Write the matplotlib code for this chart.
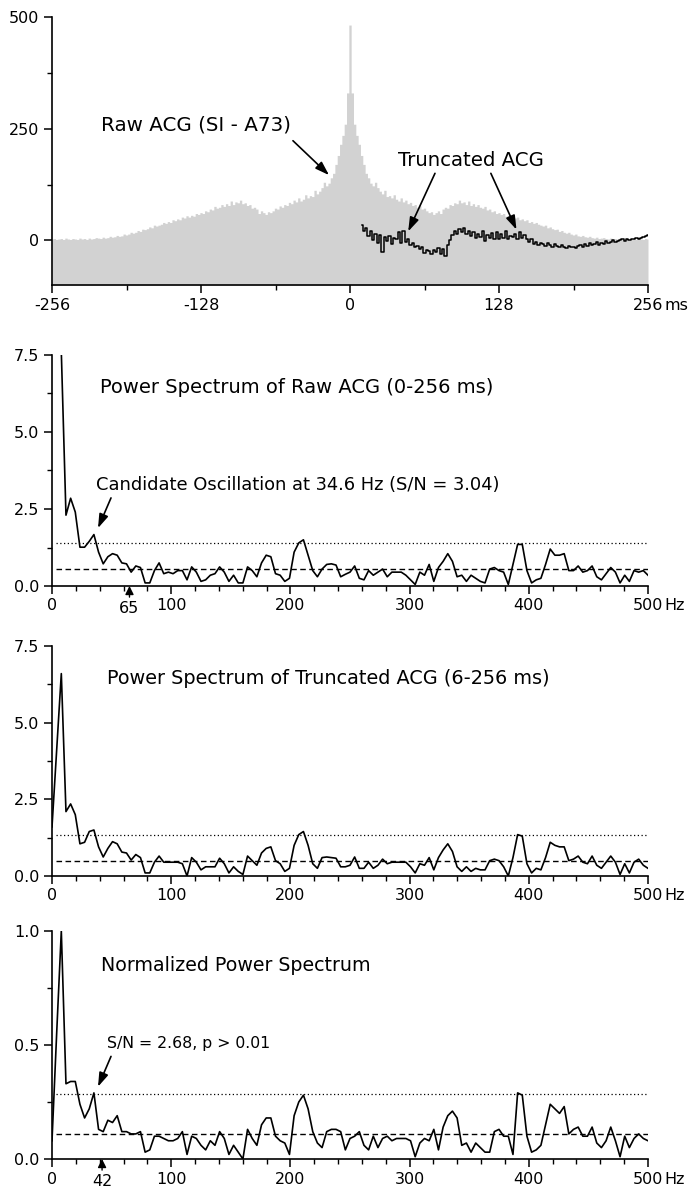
import numpy as np
import matplotlib.pyplot as plt
from matplotlib.ticker import MultipleLocator

plt.rcParams['font.family'] = ['DejaVu Sans']

# ---- raw autocorrelogram, counts at lags 0, 2, ..., 256 ms (symmetric) ----
acg_counts = [482, 330, 260, 235, 215, 190, 170, 150, 140, 128,
              122, 130, 118, 110, 104, 112, 98, 100, 95, 102,
              92, 88, 95, 86, 90, 82, 85, 78, 80, 74,
              77, 70, 72, 66, 62, 64, 58, 62, 66, 60,
              70, 74, 72, 80, 78, 84, 82, 90, 84, 86,
              80, 88, 78, 82, 76, 80, 74, 72, 76, 68,
              70, 64, 66, 60, 62, 58, 60, 54, 56, 52,
              55, 50, 52, 46, 48, 44, 46, 40, 42, 38,
              40, 36, 34, 32, 34, 28, 30, 26, 24, 25,
              20, 22, 18, 16, 18, 14, 12, 14, 10, 9,
              11, 8, 7, 9, 6, 5, 7, 4, 5, 6,
              4, 3, 5, 2, 4, 3, 5, 2, 3, 4,
              2, 3, 5, 2, 4, 3, 2, 4, 3]
acg_lags = np.arange(0, 257, 2)

# truncated ACG, lags 10, 12, ..., 256 ms
trunc_vals = [34, 20, 28, 10, 22, 0, 15, -5, 12, -25,
              8, -2, 10, -8, 6, 2, 18, -5, 20, -3,
              4, -10, -6, -14, -12, -20, -16, -28, -22, -24,
              -30, -22, -26, -18, -30, -20, -35, -10, 0, 12,
              20, 14, 26, 18, 28, 15, 22, 10, 18, 5,
              14, 8, 20, -2, 12, 6, 16, 4, 18, 2,
              14, 6, 20, 4, 10, 8, 15, 3, 18, 6,
              12, 2, -4, 2, -8, -4, -10, -6, -8, -12,
              -6, -10, -14, -8, -12, -16, -10, -14, -18, -12,
              -16, -14, -18, -12, -10, -14, -8, -12, -6, -10,
              -8, -4, -10, -6, -8, -2, -6, -4, 0, -4,
              -2, 0, 2, -2, 2, 0, 4, 2, 6, 4,
              6, 8, 10, 12]
trunc_lags = np.arange(10, 257, 2)

# ---- power spectra, 129 bins from 0 to 500 Hz ----
freqs = np.linspace(0, 500, 129)

raw_power = [30, 18, 7.6, 2.3, 2.85, 2.4, 1.26, 1.26, 1.45, 1.67,
             1.1, 0.72, 0.95, 1.05, 1.0, 0.75, 0.72, 0.45, 0.65, 0.6,
             0.1, 0.1, 0.5, 0.75, 0.4, 0.45, 0.4, 0.5, 0.5, 0.2,
             0.62, 0.45, 0.15, 0.2, 0.35, 0.4, 0.62, 0.45, 0.15, 0.35,
             0.1, 0.1, 0.62, 0.5, 0.3, 0.75, 1.0, 0.95, 0.4, 0.35,
             0.15, 0.25, 1.1, 1.4, 1.5, 1.0, 0.5, 0.3, 0.55, 0.7,
             0.72, 0.68, 0.3, 0.38, 0.45, 0.65, 0.25, 0.2, 0.5, 0.35,
             0.45, 0.55, 0.3, 0.45, 0.45, 0.45, 0.35, 0.2, 0.05, 0.45,
             0.35, 0.7, 0.15, 0.6, 0.8, 1.05, 0.8, 0.3, 0.35, 0.15,
             0.35, 0.25, 0.15, 0.1, 0.55, 0.6, 0.5, 0.45, 0.05, 0.7,
             1.35, 1.35, 0.5, 0.1, 0.2, 0.25, 0.7, 1.2, 1.0, 1.0,
             1.05, 0.5, 0.5, 0.65, 0.45, 0.5, 0.65, 0.3, 0.2, 0.4,
             0.6, 0.45, 0.1, 0.35, 0.15, 0.5, 0.45, 0.5, 0.35]

trunc_power = [1.6, 4.1, 6.6, 2.1, 2.35, 2.0, 1.05, 1.1, 1.45, 1.5,
               0.95, 0.62, 0.9, 1.12, 1.05, 0.78, 0.75, 0.52, 0.7, 0.6,
               0.1, 0.1, 0.45, 0.65, 0.45, 0.45, 0.45, 0.45, 0.4, 0.0,
               0.6, 0.45, 0.2, 0.3, 0.3, 0.3, 0.58, 0.4, 0.1, 0.3,
               0.15, 0.05, 0.65, 0.5, 0.35, 0.75, 0.9, 0.95, 0.5, 0.4,
               0.15, 0.25, 1.0, 1.35, 1.45, 1.0, 0.4, 0.25, 0.6, 0.62,
               0.6, 0.58, 0.3, 0.3, 0.35, 0.62, 0.25, 0.25, 0.45, 0.25,
               0.35, 0.55, 0.4, 0.45, 0.45, 0.45, 0.45, 0.3, 0.1, 0.4,
               0.35, 0.6, 0.2, 0.6, 0.85, 1.05, 0.8, 0.3, 0.15, 0.3,
               0.15, 0.25, 0.2, 0.2, 0.5, 0.55, 0.5, 0.3, 0.0, 0.6,
               1.35, 1.3, 0.4, 0.1, 0.25, 0.2, 0.6, 1.1, 1.0, 0.95,
               0.95, 0.5, 0.55, 0.65, 0.45, 0.4, 0.65, 0.35, 0.25, 0.45,
               0.65, 0.45, 0.05, 0.4, 0.1, 0.45, 0.55, 0.35, 0.25]

norm_power = [0.08, 0.55, 1.0, 0.33, 0.34, 0.34, 0.24, 0.18, 0.22, 0.29,
              0.13, 0.12, 0.17, 0.16, 0.19, 0.12, 0.12, 0.11, 0.11, 0.12,
              0.03, 0.04, 0.1, 0.1, 0.09, 0.08, 0.08, 0.09, 0.12, 0.02,
              0.1, 0.09, 0.06, 0.04, 0.08, 0.06, 0.12, 0.09, 0.02, 0.06,
              0.03, 0.0, 0.13, 0.09, 0.06, 0.15, 0.18, 0.18, 0.1, 0.08,
              0.07, 0.02, 0.19, 0.25, 0.28, 0.22, 0.12, 0.07, 0.05, 0.12,
              0.13, 0.13, 0.12, 0.04, 0.09, 0.1, 0.12, 0.06, 0.04, 0.1,
              0.05, 0.09, 0.1, 0.08, 0.09, 0.09, 0.09, 0.08, 0.01, 0.07,
              0.09, 0.08, 0.13, 0.04, 0.14, 0.19, 0.21, 0.18, 0.06, 0.07,
              0.03, 0.07, 0.05, 0.03, 0.03, 0.12, 0.13, 0.1, 0.1, 0.02,
              0.29, 0.28, 0.1, 0.03, 0.04, 0.06, 0.15, 0.24, 0.22, 0.2,
              0.23, 0.11, 0.13, 0.14, 0.1, 0.1, 0.14, 0.07, 0.05, 0.08,
              0.14, 0.08, 0.01, 0.1, 0.05, 0.09, 0.11, 0.09, 0.08]

# significance (dotted) and mean noise (dashed) levels per spectrum
sig_levels = [1.4, 1.33, 0.285]
noise_levels = [0.55, 0.5, 0.108]

GRAY = '#d2d2d2'
FS = 14
TFS = 11.5


def style_axes(ax):
    for s in ['top', 'right']:
        ax.spines[s].set_visible(False)
    for s in ['left', 'bottom']:
        ax.spines[s].set_linewidth(1.2)
    ax.tick_params(which='major', direction='out', length=6, width=1.1,
                   labelsize=TFS, pad=3)
    ax.tick_params(which='minor', direction='out', length=3.5, width=1.0)
    ax.patch.set_alpha(0)


def unit_label(ax, text):
    ax.annotate(text, xy=(1, 0), xycoords='axes fraction', xytext=(12, -9),
                textcoords='offset points', ha='left', va='top', fontsize=TFS)


fig = plt.figure(figsize=(6.97, 11.99), dpi=100)
L, W = 52 / 697, 596 / 697
ax0 = fig.add_axes([L, 1 - 285 / 1199, W, 268 / 1199])
ax1 = fig.add_axes([L, 1 - 586 / 1199, W, 231 / 1199])
ax2 = fig.add_axes([L, 1 - 876 / 1199, W, 230 / 1199])
ax3 = fig.add_axes([L, 1 - 1159 / 1199, W, 228 / 1199])

# ---- top: raw ACG ----
counts = np.array(acg_counts, dtype=float)
full_lags = np.concatenate([-acg_lags[:0:-1], acg_lags])
full_counts = np.concatenate([counts[:0:-1], counts])
ymin = -100
ax0.fill_between(full_lags, ymin, full_counts, step='mid', color=GRAY, lw=0)
ax0.step(trunc_lags, trunc_vals, where='mid', color='k', lw=1.1)
ax0.set_xlim(-256, 256)
ax0.set_ylim(ymin, 500)
ax0.set_xticks([-256, -128, 0, 128, 256])
ax0.set_xticklabels(['-256', '-128', '0', '128', '256'])
ax0.xaxis.set_minor_locator(MultipleLocator(64))
ax0.set_yticks([0, 250, 500])
ax0.yaxis.set_minor_locator(MultipleLocator(125))
style_axes(ax0)
unit_label(ax0, 'ms')

arrow_kw = dict(arrowstyle='-|>,head_length=0.6,head_width=0.2', color='k',
                lw=1.2, mutation_scale=14, shrinkA=0, shrinkB=0)
ax0.text(-132, 258, 'Raw ACG (SI - A73)', ha='center', va='center', fontsize=14.3)
ax0.annotate('', xy=(-18, 146), xytext=(-49, 223), arrowprops=arrow_kw)
ax0.text(104, 179, 'Truncated ACG', ha='center', va='center', fontsize=14.2)
ax0.annotate('', xy=(50, 20), xytext=(73, 150), arrowprops=arrow_kw)
ax0.annotate('', xy=(143, 24), xytext=(121, 150), arrowprops=arrow_kw)

# ---- spectra ----
spectra = [raw_power, trunc_power, norm_power]
for i, ax in enumerate([ax1, ax2, ax3]):
    ax.plot(freqs, spectra[i], color='k', lw=1.2)
    ax.hlines(sig_levels[i], 3, 500, colors='k', linestyles=(0, (1, 2)), lw=0.9)
    ax.hlines(noise_levels[i], 3, 500, colors='k', linestyles=(0, (4, 2.5)), lw=1.0)
    ax.set_xlim(0, 500)
    ax.set_xticks([0, 100, 200, 300, 400, 500])
    ax.xaxis.set_minor_locator(MultipleLocator(20))
    style_axes(ax)
    unit_label(ax, 'Hz')

for ax in [ax1, ax2]:
    ax.set_ylim(0, 7.5)
    ax.set_yticks([0, 2.5, 5.0, 7.5])
    ax.set_yticklabels(['0.0', '2.5', '5.0', '7.5'])
    ax.yaxis.set_minor_locator(MultipleLocator(1.25))
ax3.set_ylim(0, 1.0)
ax3.set_yticks([0, 0.5, 1.0])
ax3.set_yticklabels(['0.0', '0.5', '1.0'])
ax3.yaxis.set_minor_locator(MultipleLocator(0.25))

ax1.text(40, 6.45, 'Power Spectrum of Raw ACG (0-256 ms)', ha='left',
         va='center', fontsize=FS)
ax1.text(37, 3.28, 'Candidate Oscillation at 34.6 Hz (S/N = 3.04)',
         ha='left', va='center', fontsize=12.9)
ax1.annotate('', xy=(38.6, 1.88), xytext=(49.5, 2.86), arrowprops=arrow_kw)

ax2.text(46, 6.45, 'Power Spectrum of Truncated ACG (6-256 ms)', ha='left',
         va='center', fontsize=13.9)

ax3.text(41, 0.85, 'Normalized Power Spectrum', ha='left', va='center',
         fontsize=13.7)
ax3.text(46, 0.507, 'S/N = 2.68, p > 0.01', ha='left', va='center',
         fontsize=11.3)
ax3.annotate('', xy=(38.6, 0.317), xytext=(49.5, 0.45), arrowprops=arrow_kw)

# marked frequencies below the axes
small_arrow = dict(arrowstyle='-|>,head_length=0.5,head_width=0.25',
                   color='k', lw=1.0, mutation_scale=10, shrinkA=0, shrinkB=0)
for ax, f in [(ax1, 65), (ax3, 42)]:
    ax.annotate('', xy=(f, 0), xycoords=('data', 'axes fraction'),
                xytext=(0, -8), textcoords='offset points',
                arrowprops=small_arrow, annotation_clip=False)
    ax.annotate(str(f), xy=(f, 0), xycoords=('data', 'axes fraction'),
                xytext=(0, -11), textcoords='offset points', ha='center',
                va='top', fontsize=TFS, annotation_clip=False)

fig.savefig('out.png', dpi=100)
